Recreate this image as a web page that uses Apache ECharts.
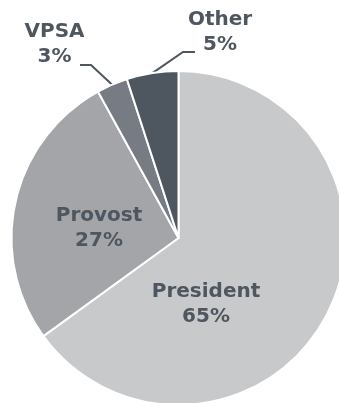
<!DOCTYPE html>
<html>
<head>
<meta charset="utf-8">
<script src="https://cdn.jsdelivr.net/npm/echarts@6/dist/echarts.min.js"></script>
<style>
  html, body { margin: 0; padding: 0; background: #ffffff; }
  #chart { width: 339px; height: 403px; }
</style>
</head>
<body>
<div id="chart"></div>
<script>
// Share of decisions by office (percent)
const categories = ['President', 'Provost', 'VPSA', 'Other'];
const shares = [65, 27, 3, 5];

// Slice fills, light to dark
const sliceColors = ['#c8c9cb', '#a3a5a9', '#777c84', '#4e5660'];
const textColor = '#4e5660';

// Where each label block is centred, plus the bend and end of the leader line
// for the labels that sit outside the pie
const labelSpots = {
  President: { x: 206, y: 304 },
  Provost:   { x: 99,  y: 228.5 },
  VPSA:      { x: 54.5, y: 44.5, bend: [[91, 65], [80, 65]] },
  Other:     { x: 220, y: 32.5, bend: [[183, 52], [195, 52]] }
};

const chart = echarts.init(document.getElementById('chart'), null, { renderer: 'canvas' });

const pieData = categories.map((name, i) => {
  const outside = !!labelSpots[name].bend;
  return {
    name: name,
    value: shares[i],
    itemStyle: { color: sliceColors[i] },
    label: { position: outside ? 'outside' : 'inside' },
    labelLine: { show: outside }
  };
});

chart.setOption({
  animation: false,
  backgroundColor: '#ffffff',
  series: [{
    type: 'pie',
    center: [178.5, 238],
    radius: 167,
    startAngle: 90,
    clockwise: true,
    avoidLabelOverlap: false,
    silent: true,
    itemStyle: { borderColor: '#ffffff', borderWidth: 2 },
    label: {
      show: true,
      formatter: p => p.name + '\n' + p.value + '%',
      fontFamily: 'DejaVu Sans',
      fontWeight: 'bold',
      fontSize: 20,
      lineHeight: 25,
      color: textColor,
      align: 'center'
    },
    labelLine: {
      lineStyle: { color: textColor, width: 2 }
    },
    labelLayout: function (params) {
      const spot = labelSpots[categories[params.dataIndex]];
      const out = { x: spot.x, y: spot.y, align: 'center', verticalAlign: 'middle' };
      if (spot.bend && params.labelLinePoints) {
        out.labelLinePoints = [params.labelLinePoints[0]].concat(spot.bend);
      }
      return out;
    },
    data: pieData
  }]
});
</script>
</body>
</html>
